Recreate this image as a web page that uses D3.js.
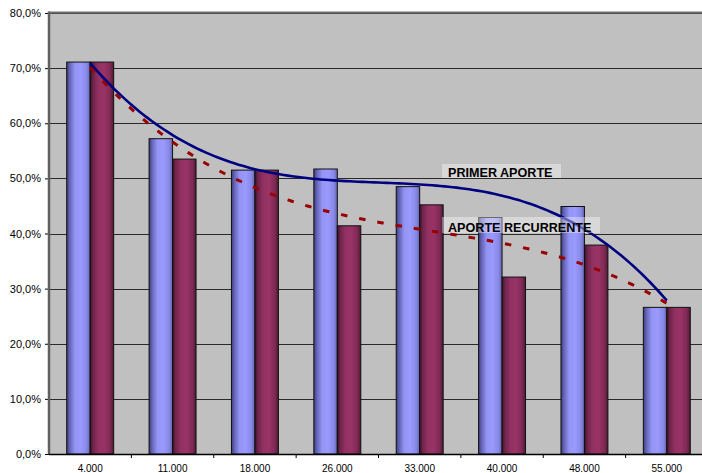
<!DOCTYPE html>
<html lang="es">

<head>
    <meta charset="UTF-8">
    <title>Primer aporte / aporte recurrente</title>
    <style>
        body {
            margin: 0;
            background: #fff;
        }

        .axis text {
            font-family: Arial, "Liberation Sans", sans-serif;
            fill: #000;
        }

        .grid line {
            stroke: #2a2a2a;
            stroke-width: 1;
            shape-rendering: crispEdges;
        }

        .MyRect {
            stroke: #111;
            stroke-width: 1;
        }

        .tag text {
            font-family: Arial, "Liberation Sans", sans-serif;
            font-weight: bold;
            font-size: 12.6px;
            fill: #000;
        }
    </style>
</head>

<body>
    <script src="https://d3js.org/d3.v7.min.js"></script>
    <script>
        var width = 702;
        var height = 473;
        //plot area (extends past the right edge, like the original)
        var padding = { left: 49, top: 13, bottom: 19 };
        var plotW = 659;

        //datos
        var categories = ['4.000', '11.000', '18.000', '26.000', '33.000', '40.000', '48.000', '55.000'];
        var seriesNames = ['PRIMER APORTE', 'APORTE RECURRENTE'];
        var primerAporte = [0.711, 0.572, 0.515, 0.517, 0.485, 0.429, 0.449, 0.266];
        var aporteRecurrente = [0.711, 0.535, 0.515, 0.414, 0.452, 0.321, 0.379, 0.266];
        var yTicks = [0, 0.1, 0.2, 0.3, 0.4, 0.5, 0.6, 0.7, 0.8];

        var svg = d3.select('body').append('svg').attr('width', width).attr('height', height);
        var defs = svg.append('defs');

        var x0 = padding.left, y0 = height - padding.bottom;

        var xScale = d3.scaleBand()
            .domain(categories)
            .range([x0, x0 + plotW])
            .paddingInner(0.43)
            .paddingOuter(0.215);
        var xSub = d3.scaleBand()
            .domain([0, 1])
            .range([0, xScale.bandwidth()]);
        var yScale = d3.scaleLinear()
            .domain([0, 0.8])
            .range([y0, padding.top]);

        //fondo gris
        svg.append('rect')
            .attr('x', x0).attr('y', padding.top)
            .attr('width', plotW).attr('height', y0 - padding.top)
            .attr('fill', '#c0c0c0');

        //lineas de division
        svg.append('g').attr('class', 'grid')
            .selectAll('line')
            .data(yTicks.slice(1))
            .enter().append('line')
            .attr('x1', x0).attr('x2', x0 + plotW)
            .attr('y1', function (d) { return Math.round(yScale(d)) + 0.5; })
            .attr('y2', function (d) { return Math.round(yScale(d)) + 0.5; });

        //gradientes de las barras
        function gradient(id, stops) {
            var g = defs.append('linearGradient').attr('id', id)
                .attr('x1', '0%').attr('x2', '100%').attr('y1', '0%').attr('y2', '0%');
            stops.forEach(function (s) {
                g.append('stop').attr('offset', s[0]).attr('stop-color', s[1]);
            });
        }
        gradient('gBlue', [[0, '#3c3c78'], [0.12, '#6262b4'], [0.35, '#9494f4'], [0.6, '#9a9aff'], [0.85, '#8888e6'], [1, '#6464ae']]);
        gradient('gRed', [[0, '#3a1026'], [0.12, '#6e2449'], [0.35, '#923163'], [0.6, '#993366'], [0.85, '#7e2a54'], [1, '#4e1a34']]);
        var fills = ['url(#gBlue)', 'url(#gRed)'];

        var series = [primerAporte, aporteRecurrente];
        series.forEach(function (vals, s) {
            svg.selectAll('.bar' + s)
                .data(vals)
                .enter()
                .append('rect')
                .attr('class', 'MyRect bar' + s)
                .attr('x', function (d, i) { return xScale(categories[i]) + xSub(s); })
                .attr('y', function (d) { return yScale(d); })
                .attr('width', xSub.bandwidth())
                .attr('height', function (d) { return y0 - yScale(d); })
                .attr('fill', fills[s]);
        });

        //linea de tendencia polinomica (orden 3), como en Excel
        function polyFit(ys, order) {
            var n = order + 1, A = [], b = [];
            for (var r = 0; r < n; r++) {
                A.push([]);
                b.push(0);
                for (var c = 0; c < n; c++) A[r].push(0);
            }
            ys.forEach(function (y, i) {
                var xv = i + 1;
                for (var r = 0; r < n; r++) {
                    b[r] += y * Math.pow(xv, r);
                    for (var c = 0; c < n; c++) A[r][c] += Math.pow(xv, r + c);
                }
            });
            //gauss
            for (var k = 0; k < n; k++) {
                for (var r2 = k + 1; r2 < n; r2++) {
                    var f = A[r2][k] / A[k][k];
                    for (var c2 = k; c2 < n; c2++) A[r2][c2] -= f * A[k][c2];
                    b[r2] -= f * b[k];
                }
            }
            var coef = new Array(n);
            for (var k2 = n - 1; k2 >= 0; k2--) {
                var sum = b[k2];
                for (var c3 = k2 + 1; c3 < n; c3++) sum -= A[k2][c3] * coef[c3];
                coef[k2] = sum / A[k2][k2];
            }
            return function (xv) {
                var v = 0;
                for (var p = 0; p < n; p++) v += coef[p] * Math.pow(xv, p);
                return v;
            };
        }

        var first = xScale(categories[0]) + xScale.bandwidth() / 2;
        var step = xScale.step();
        var trendX = d3.scaleLinear().domain([1, categories.length]).range([first, first + step * (categories.length - 1)]);
        var line = d3.line()
            .x(function (d) { return trendX(d[0]); })
            .y(function (d) { return yScale(d[1]); });

        var trendStyles = [
            { stroke: '#000080', width: 2.6, dash: null },
            { stroke: '#990000', width: 3, dash: '6.5,12' }
        ];
        series.forEach(function (vals, s) {
            var fn = polyFit(vals, 3);
            var pts = d3.range(1, categories.length + 0.001, 0.05).map(function (t) { return [t, fn(t)]; });
            svg.append('path')
                .attr('d', line(pts))
                .attr('fill', 'none')
                .attr('stroke', trendStyles[s].stroke)
                .attr('stroke-width', trendStyles[s].width)
                .attr('stroke-dasharray', trendStyles[s].dash);
        });

        //etiquetas de las series
        var tags = [
            { x: 442, y: 164, w: 119, h: 14 },
            { x: 442, y: 217, w: 158, h: 16 }
        ];
        var tagG = svg.append('g').attr('class', 'tag');
        tags.forEach(function (t, i) {
            tagG.append('rect')
                .attr('x', t.x).attr('y', t.y).attr('width', t.w).attr('height', t.h)
                .attr('fill', '#fff').attr('fill-opacity', 0.38);
            tagG.append('text')
                .attr('x', t.x + 6).attr('y', t.y + t.h - 1.5)
                .text(seriesNames[i]);
        });

        //ejes
        var yAxis = d3.axisLeft(yScale)
            .tickValues(yTicks)
            .tickSize(4)
            .tickFormat(function (d) { return d3.format('.1%')(d).replace('.', ','); });
        var gy = svg.append('g').attr('class', 'axis')
            .attr('transform', 'translate(' + x0 + ',0)')
            .call(yAxis);
        gy.select('.domain').remove();
        gy.selectAll('line').attr('stroke', '#000');
        gy.selectAll('text').attr('font-size', '11px').attr('x', -8);

        var gx = svg.append('g').attr('class', 'axis')
            .attr('transform', 'translate(0,' + y0 + ')')
            .call(d3.axisBottom(xScale).tickSize(0).tickPadding(11));
        gx.select('.domain').remove();
        gx.selectAll('text').attr('font-size', '10px').attr('dy', '0.71em');

        //marcas entre categorias
        svg.append('g').selectAll('line')
            .data(categories.slice(1))
            .enter().append('line')
            .attr('x1', function (d) { return xScale(d) - step * 0.43 / 2; })
            .attr('x2', function (d) { return xScale(d) - step * 0.43 / 2; })
            .attr('y1', y0).attr('y2', y0 + 4)
            .attr('stroke', '#000');

        //borde del area
        svg.append('line')
            .attr('x1', x0).attr('x2', x0 + plotW)
            .attr('y1', padding.top - 0.5).attr('y2', padding.top - 0.5)
            .attr('stroke', '#707070').attr('stroke-width', 2);
        svg.append('line')
            .attr('x1', x0).attr('x2', x0)
            .attr('y1', padding.top - 1.5).attr('y2', y0)
            .attr('stroke', '#606060').attr('stroke-width', 2.5);
        svg.append('line')
            .attr('x1', x0).attr('x2', x0 + plotW)
            .attr('y1', y0 + 0.5).attr('y2', y0 + 0.5)
            .attr('stroke', '#000').attr('stroke-width', 1.5);
    </script>
</body>

</html>
